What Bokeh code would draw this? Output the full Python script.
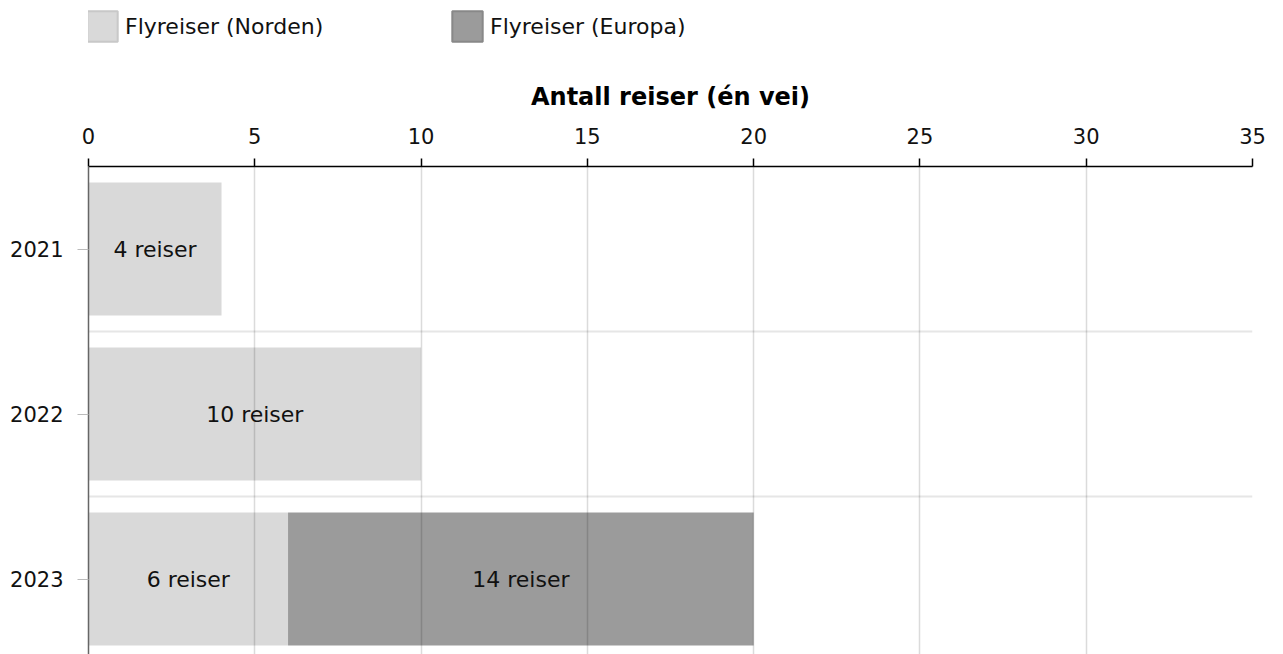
from bokeh.plotting import figure
from bokeh.layouts import column
from bokeh.models import (Range1d, FixedTicker, LinearAxis, Legend, LegendItem,
                          ColumnDataSource, LabelSet)
from bokeh.core.properties import value
from bokeh.embed import file_html
from bokeh.resources import INLINE

years = ["2021", "2022", "2023"]
norden = [4, 10, 6]
europa = [0, 0, 14]
x_ticks = [0, 5, 10, 15, 20, 25, 30, 35]
series_names = ["Flyreiser (Norden)", "Flyreiser (Europa)"]
colors = ["#d9d9d9", "#9b9b9b"]
FONT = "DejaVu Sans"

n = len(years)
ypos = [n - i - 0.5 for i in range(n)]
FIG_W = 1283
LEG_H = 46
TOP, LEFT, RIGHT_EDGE = 166, 88, 1252
MAIN_H = 654 - LEG_H
FRAME_H = 654 - TOP

# ---------- legend strip ----------
pl = figure(width=FIG_W, height=LEG_H, output_backend="svg", toolbar_location=None,
            x_range=Range1d(0, 1), y_range=Range1d(0, 1),
            x_axis_location=None, y_axis_location=None,
            min_border=0, min_border_left=0, min_border_right=0,
            min_border_top=0, min_border_bottom=0)
pl.outline_line_color = None
pl.grid.visible = False
dummy_n = pl.quad(left=[-10], right=[-9], bottom=[-10], top=[-9], fill_color=colors[0],
                  line_color="#c8c8c8", line_width=2)
dummy_e = pl.quad(left=[-10], right=[-9], bottom=[-10], top=[-9], fill_color=colors[1],
                  line_color="#888888", line_width=2)
leg = Legend(items=[LegendItem(label=series_names[0], renderers=[dummy_n]),
                    LegendItem(label=series_names[1], renderers=[dummy_e])],
             orientation="horizontal", location=(-5, 1))
leg.glyph_width = 38
leg.glyph_height = 38
leg.label_standoff = 4
leg.label_width = 323
leg.spacing = 0
leg.padding = 0
leg.margin = 0
leg.border_line_color = None
leg.background_fill_alpha = 0
leg.label_text_font = FONT
leg.label_text_font_size = "22px"
leg.label_text_color = "#111111"
pl.add_layout(leg, "center")

# ---------- main chart ----------
p = figure(width=FIG_W, height=MAIN_H, output_backend="svg", toolbar_location=None,
           x_range=Range1d(0, 35), y_range=Range1d(n - FRAME_H / 165.0, n),
           x_axis_location=None, y_axis_location=None,
           min_border_left=LEFT, min_border_right=FIG_W - RIGHT_EDGE,
           min_border_bottom=0, min_border_top=TOP - LEG_H)
p.outline_line_color = None

src_n = ColumnDataSource(dict(y=ypos, left=[0] * n, right=norden,
                              mid=[v / 2 for v in norden],
                              lab=[f"{v} reiser" for v in norden]))
left_e = norden
right_e = [a + b for a, b in zip(norden, europa)]
keep = [i for i in range(n) if europa[i] > 0]
src_e = ColumnDataSource(dict(y=[ypos[i] for i in keep], left=[left_e[i] for i in keep],
                              right=[right_e[i] for i in keep],
                              mid=[(left_e[i] + right_e[i]) / 2 for i in keep],
                              lab=[f"{europa[i]} reiser" for i in keep]))
p.hbar(y="y", left="left", right="right", height=0.806, source=src_n,
       fill_color=colors[0], line_color=None)
p.hbar(y="y", left="left", right="right", height=0.806, source=src_e,
       fill_color=colors[1], line_color=None)

for s in (src_n, src_e):
    p.add_layout(LabelSet(x="mid", y="y", text="lab", source=s, text_align="center",
                          text_baseline="middle", text_font=value(FONT),
                          text_font_size=value("22px"), text_color="#111111"))

p.xgrid.ticker = FixedTicker(ticks=x_ticks)
p.xgrid.grid_line_color = "#000000"
p.xgrid.grid_line_alpha = 0.14
p.xgrid.grid_line_width = 1.5
p.xgrid.level = "overlay"
p.ygrid.ticker = FixedTicker(ticks=[1, 2])
p.ygrid.grid_line_color = "#e6e6e6"
p.ygrid.grid_line_width = 2

xa = LinearAxis(ticker=FixedTicker(ticks=x_ticks), axis_label="Antall reiser (én vei)")
xa.axis_line_color = "#000000"
xa.axis_line_width = 1.5
xa.major_tick_line_color = "#000000"
xa.major_tick_line_width = 1.5
xa.major_tick_out = 8
xa.major_tick_in = 0
xa.minor_tick_line_color = None
xa.major_label_text_font = FONT
xa.major_label_text_font_size = "21px"
xa.major_label_text_color = "#111111"
xa.major_label_standoff = 15
xa.axis_label_text_font = FONT
xa.axis_label_text_font_size = "24px"
xa.axis_label_text_font_style = "bold"
xa.axis_label_text_color = "#000000"
xa.axis_label_standoff = 14
p.add_layout(xa, "above")

ya = LinearAxis(ticker=FixedTicker(ticks=ypos))
ya.major_label_overrides = {y: lab for y, lab in zip(ypos, years)}
ya.axis_line_color = "#666666"
ya.axis_line_width = 1.5
ya.major_tick_line_color = "#bbbbbb"
ya.major_tick_out = 11
ya.major_tick_in = 0
ya.minor_tick_line_color = None
ya.major_label_text_font = FONT
ya.major_label_text_font_size = "21px"
ya.major_label_text_color = "#111111"
ya.major_label_standoff = 14
p.add_layout(ya, "left")

layout = column(pl, p, spacing=0)
open("out.html", "w").write(file_html(layout, INLINE))
